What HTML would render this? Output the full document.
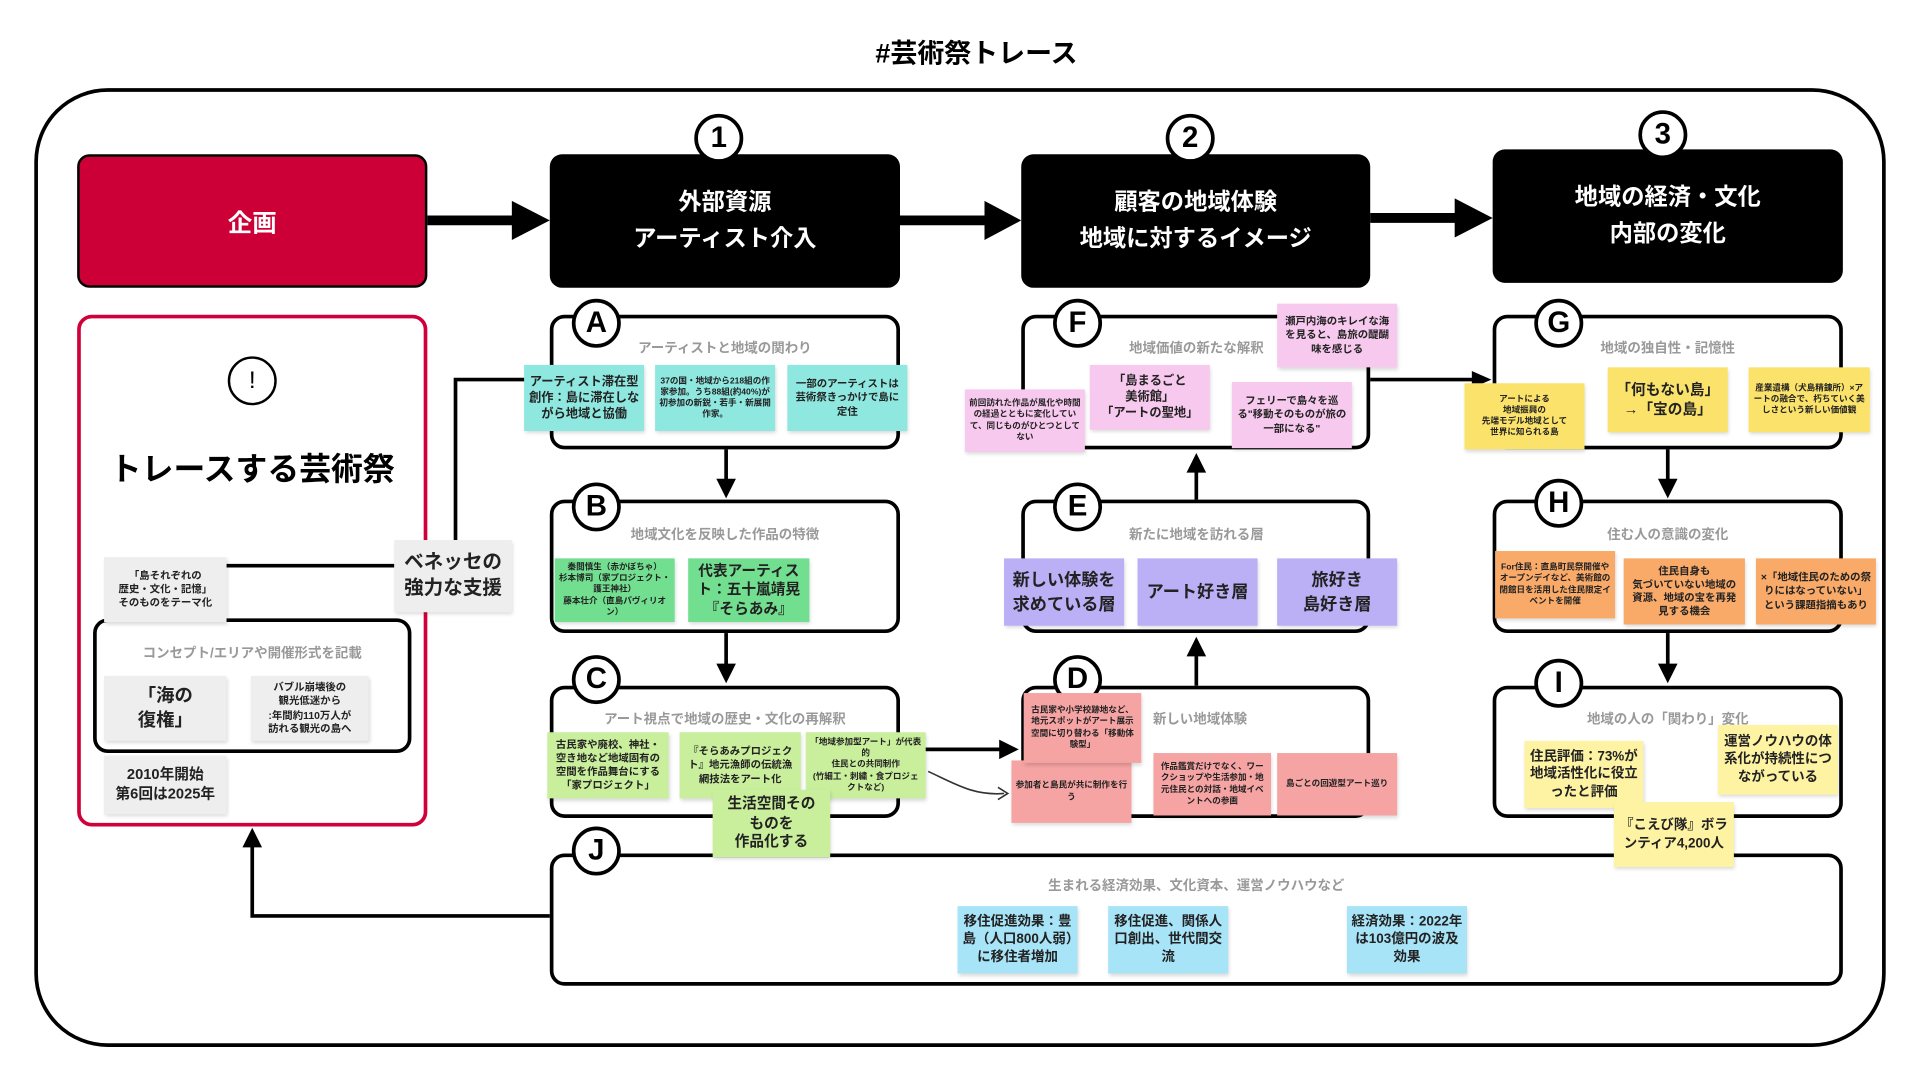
<!DOCTYPE html>
<html><head><meta charset="utf-8">
<style>
html,body{margin:0;padding:0;background:#fff;width:1920px;height:1080px;overflow:hidden}
#s{position:absolute;left:0;top:0;width:1568px;height:882px;transform:scale(1.22449);transform-origin:0 0;font-family:"Liberation Sans","Noto Sans CJK JP",sans-serif}
.a{position:absolute;box-sizing:border-box}
.box{position:absolute;box-sizing:border-box;border:3px solid #000;border-radius:12px;background:#fff}
.blk{position:absolute;box-sizing:border-box;background:#000;border-radius:10px;color:#fff;font-weight:bold;font-size:19px;line-height:30px;display:flex;align-items:center;justify-content:center;text-align:center}
.c{position:absolute;width:40px;height:40px;margin:-20px 0 0 -20px;border:3px solid #000;border-radius:50%;background:#fff;box-sizing:border-box;font-weight:bold;font-size:24px;display:flex;align-items:center;justify-content:center;font-family:"Liberation Sans",sans-serif}
.lbl{position:absolute;color:#999;font-weight:bold;font-size:11px;text-align:center;white-space:nowrap;transform:translateX(-50%)}
.st{position:absolute;box-sizing:border-box;display:flex;align-items:center;justify-content:center;text-align:center;font-weight:bold;color:#222;box-shadow:1px 2px 3px rgba(0,0,0,.15);padding:2px 3px;line-height:1.3}
.t{background:#8ee8e0}.g{background:#72df90}.lg{background:#c9ef9c}.bl{background:#a8e4f8}.sa{background:#f6a3a3}.pu{background:#bbaff5}.pk{background:#f8c9ee}.y{background:#fbe36b}.o{background:#f9aa68}.ly{background:#fdf3a3}.gr{background:#eeeeee}
.s7{font-size:7px}.s8{font-size:8.5px}.s10{font-size:10px}.s11{font-size:11px}.s12{font-size:12px}.s14{font-size:14px;line-height:1.4}.s16{font-size:16px;line-height:1.5}
</style></head><body>
<div id="s">
<div class="a" style="left:0;top:26px;width:1595px;text-align:center;font-weight:bold;font-size:22px">#芸術祭トレース</div>
<div class="a" style="left:28px;top:72px;width:1512px;height:783px;border:3px solid #000;border-radius:60px"></div>

<svg class="a" style="left:0;top:0" width="1568" height="882">
<g stroke="#000" stroke-width="8" fill="none">
<line x1="349" y1="180" x2="420" y2="180"/><line x1="735" y1="180" x2="806" y2="180"/><line x1="1119" y1="178" x2="1190" y2="178"/>
</g>
<path d="M418,164 L449,180 L418,196z"/><path d="M804,164 L834,180 L804,196z"/><path d="M1188,162 L1219,178 L1188,194z"/>
<g stroke="#000" stroke-width="3" fill="none">
<polyline points="185,462 322,462"/>
<polyline points="372,441 372,310 430,310"/>
<line x1="593" y1="367" x2="593" y2="393"/><line x1="593" y1="517" x2="593" y2="544"/>
<line x1="1362" y1="367" x2="1362" y2="393"/><line x1="1362" y1="517" x2="1362" y2="544"/>
<line x1="977" y1="560" x2="977" y2="534"/><line x1="977" y1="408" x2="977" y2="384"/>
<line x1="1119" y1="310" x2="1204" y2="310"/>
<line x1="735" y1="612" x2="818" y2="612"/>
<polyline points="449,748 206,748 206,690"/>
</g>
<path d="M585,391 L593,407 L601,391z"/><path d="M585,542 L593,558 L601,542z"/>
<path d="M1354,391 L1362,407 L1370,391z"/><path d="M1354,542 L1362,558 L1370,542z"/>
<path d="M969,536 L977,520 L985,536z"/><path d="M969,386 L977,370 L985,386z"/>
<path d="M1202,303 L1218,310 L1202,317z"/><path d="M816,604 L832,612 L816,620z"/>
<path d="M198,692 L206,676 L214,692z"/>
<path d="M758,630 C780,640 795,650 820,648" stroke="#333" stroke-width="1.3" fill="none"/>
<path d="M815,643 L823,648 L815,653" stroke="#333" stroke-width="1.3" fill="none"/>
</svg>

<div class="a" style="left:63px;top:126px;width:286px;height:109px;background:#cc0036;border:2px solid #000;border-radius:10px;color:#fff;font-weight:bold;font-size:20px;display:flex;align-items:center;justify-content:center">企画</div>
<div class="a" style="left:63px;top:257px;width:286px;height:418px;border:3px solid #d0003a;border-radius:12px"></div>
<div class="c" style="left:206px;top:311px;font-size:20px;font-weight:normal;border-width:2px">!</div>
<div class="a" style="left:63px;top:363px;width:286px;text-align:center;font-weight:bold;font-size:26px">トレースする芸術祭</div>
<div class="box" style="left:76px;top:505px;width:260px;height:110px"></div>
<div class="lbl" style="left:206px;top:525px">コンセプト/エリアや開催形式を記載</div>
<div class="st gr s8" style="left:85px;top:455px;width:100px;height:53px">「島それぞれの<br>歴史・文化・記憶」<br>そのものをテーマ化</div>
<div class="st gr" style="left:85px;top:552px;width:100px;height:53px;font-size:15px">「海の<br>復権」</div>
<div class="st gr s8" style="left:205px;top:552px;width:96px;height:53px">バブル崩壊後の<br>観光低迷から<br>:年間約110万人が<br>訪れる観光の島へ</div>
<div class="st gr" style="left:85px;top:617px;width:100px;height:48px;font-size:12px">2010年開始<br>第6回は2025年</div>
<div class="st gr" style="left:322px;top:441px;width:96px;height:59px;font-size:16px">ベネッセの<br>強力な支援</div>

<div class="blk" style="left:449px;top:126px;width:286px;height:109px">外部資源<br>アーティスト介入</div>
<div class="blk" style="left:834px;top:126px;width:285px;height:109px">顧客の地域体験<br>地域に対するイメージ</div>
<div class="blk" style="left:1219px;top:122px;width:286px;height:109px">地域の経済・文化<br>内部の変化</div>
<div class="c" style="left:587px;top:113px">1</div>
<div class="c" style="left:972px;top:113px">2</div>
<div class="c" style="left:1358px;top:110px">3</div>

<div class="box" style="left:449px;top:257px;width:286px;height:110px"></div>
<div class="box" style="left:449px;top:408px;width:286px;height:109px"></div>
<div class="box" style="left:449px;top:560px;width:286px;height:108px"></div>
<div class="box" style="left:449px;top:697px;width:1056px;height:108px"></div>
<div class="c" style="left:487px;top:264px">A</div>
<div class="c" style="left:487px;top:414px">B</div>
<div class="c" style="left:487px;top:555px">C</div>
<div class="c" style="left:487px;top:695px">J</div>
<div class="lbl" style="left:592px;top:276px">アーティストと地域の関わり</div>
<div class="lbl" style="left:592px;top:428px">地域文化を反映した作品の特徴</div>
<div class="lbl" style="left:592px;top:579px">アート視点で地域の歴史・文化の再解釈</div>
<div class="lbl" style="left:977px;top:715px">生まれる経済効果、文化資本、運営ノウハウなど</div>
<div class="st t s10" style="left:428px;top:298px;width:98px;height:54px">アーティスト滞在型創作：島に滞在しながら地域と協働</div>
<div class="st t s7" style="left:535px;top:298px;width:98px;height:54px">37の国・地域から218組の作家参加。うち88組(約40%)が初参加の新鋭・若手・新展開作家。</div>
<div class="st t s8" style="left:643px;top:298px;width:98px;height:54px">一部のアーティストは芸術祭きっかけで島に定住</div>
<div class="st g s7" style="left:453px;top:456px;width:98px;height:52px">秦閲慎生（赤かぼちゃ）<br>杉本博司（家プロジェクト・護王神社）<br>藤本壮介（直島パヴィリオン）</div>
<div class="st g s12" style="left:562px;top:456px;width:99px;height:52px">代表アーティスト：五十嵐靖晃『そらあみ』</div>
<div class="st lg s8" style="left:447px;top:598px;width:99px;height:54px">古民家や廃校、神社・空き地など地域固有の空間を作品舞台にする「家プロジェクト」</div>
<div class="st lg s8" style="left:555px;top:598px;width:99px;height:54px">『そらあみプロジェクト』地元漁師の伝統漁網技法をアート化</div>
<div class="st lg s7" style="left:658px;top:598px;width:98px;height:54px">「地域参加型アート」が代表的<br>住民との共同制作<br>(竹細工・刺繍・食プロジェクトなど)</div>
<div class="st lg s12" style="left:582px;top:645px;width:96px;height:55px">生活空間その<br>ものを<br>作品化する</div>
<div class="st bl s11" style="left:782px;top:740px;width:98px;height:55px">移住促進効果：豊島（人口800人弱）に移住者増加</div>
<div class="st bl s11" style="left:905px;top:740px;width:98px;height:55px">移住促進、関係人口創出、世代間交流</div>
<div class="st bl s11" style="left:1100px;top:740px;width:98px;height:55px">経済効果：2022年は103億円の波及効果</div>

<div class="box" style="left:834px;top:257px;width:285px;height:110px"></div>
<div class="box" style="left:834px;top:408px;width:285px;height:109px"></div>
<div class="box" style="left:834px;top:560px;width:285px;height:108px"></div>
<div class="c" style="left:880px;top:264px">F</div>
<div class="c" style="left:880px;top:414px">E</div>
<div class="c" style="left:880px;top:555px">D</div>
<div class="lbl" style="left:977px;top:276px">地域価値の新たな解釈</div>
<div class="lbl" style="left:977px;top:428px">新たに地域を訪れる層</div>
<div class="lbl" style="left:980px;top:579px">新しい地域体験</div>
<div class="st pk s8" style="left:1043px;top:248px;width:98px;height:52px">瀬戸内海のキレイな海を見ると、島旅の醍醐味を感じる</div>
<div class="st pk s10" style="left:890px;top:298px;width:98px;height:53px">「島まるごと<br>美術館」<br>「アートの聖地」</div>
<div class="st pk s8" style="left:1006px;top:312px;width:98px;height:54px">フェリーで島々を巡る"移動そのものが旅の一部になる"</div>
<div class="st pk s7" style="left:788px;top:318px;width:98px;height:51px">前回訪れた作品が風化や時間の経過とともに変化していて、同じものがひとつとしてない</div>
<div class="st pu s14" style="left:820px;top:456px;width:98px;height:55px">新しい体験を<br>求めている層</div>
<div class="st pu s14" style="left:929px;top:456px;width:98px;height:55px">アート好き層</div>
<div class="st pu s14" style="left:1043px;top:456px;width:98px;height:55px">旅好き<br>島好き層</div>
<div class="st sa s7" style="left:826px;top:621px;width:98px;height:51px">参加者と島民が共に制作を行う</div>
<div class="st sa s7" style="left:836px;top:566px;width:96px;height:57px">古民家や小学校跡地など、地元スポットがアート展示空間に切り替わる「移動体験型」</div>
<div class="st sa s7" style="left:942px;top:615px;width:96px;height:51px">作品鑑賞だけでなく、ワークショップや生活参加・地元住民との対話・地域イベントへの参画</div>
<div class="st sa s7" style="left:1043px;top:615px;width:98px;height:51px">島ごとの回遊型アート巡り</div>

<div class="box" style="left:1219px;top:257px;width:286px;height:110px"></div>
<div class="box" style="left:1219px;top:408px;width:286px;height:109px"></div>
<div class="box" style="left:1219px;top:560px;width:286px;height:108px"></div>
<div class="c" style="left:1273px;top:264px">G</div>
<div class="c" style="left:1273px;top:411px">H</div>
<div class="c" style="left:1273px;top:558px">I</div>
<div class="lbl" style="left:1362px;top:276px">地域の独自性・記憶性</div>
<div class="lbl" style="left:1362px;top:428px">住む人の意識の変化</div>
<div class="lbl" style="left:1362px;top:579px">地域の人の「関わり」変化</div>
<div class="st y s7" style="left:1196px;top:313px;width:98px;height:54px">アートによる<br>地域振興の<br>先端モデル地域として<br>世界に知られる島</div>
<div class="st y s12" style="left:1313px;top:300px;width:98px;height:53px">「何もない島」<br>→「宝の島」</div>
<div class="st y s7" style="left:1428px;top:300px;width:99px;height:53px">産業遺構（犬島精錬所）×アートの融合で、朽ちていく美しさという新しい価値観</div>
<div class="st o s7" style="left:1221px;top:450px;width:98px;height:55px">For住民：直島町民祭開催やオープンデイなど、美術館の閉館日を活用した住民限定イベントを開催</div>
<div class="st o s8" style="left:1326px;top:456px;width:99px;height:54px">住民自身も<br>気づいていない地域の資源、地域の宝を再発見する機会</div>
<div class="st o s8" style="left:1434px;top:456px;width:98px;height:54px">×「地域住民のための祭りにはなっていない」という課題指摘もあり</div>
<div class="st ly s11" style="left:1245px;top:605px;width:97px;height:55px">住民評価：73%が地域活性化に役立ったと評価</div>
<div class="st ly s11" style="left:1403px;top:592px;width:98px;height:57px">運営ノウハウの体系化が持続性につながっている</div>
<div class="st ly s11" style="left:1318px;top:655px;width:98px;height:53px">『こえび隊』ボランティア4,200人</div>
</div>
</body></html>
